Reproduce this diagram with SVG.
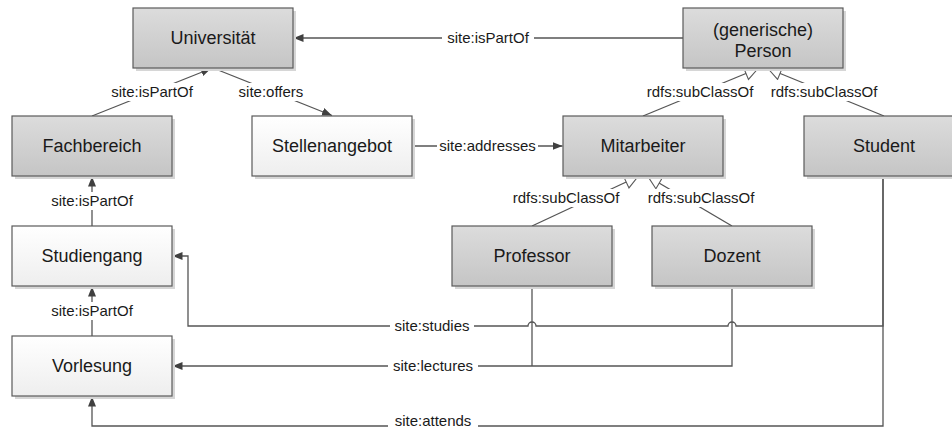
<svg xmlns="http://www.w3.org/2000/svg" width="952" height="430" viewBox="0 0 952 430">
<defs>
<linearGradient id="gGray" x1="0" y1="0" x2="0" y2="1">
<stop offset="0" stop-color="#dcdcdc"/>
<stop offset="1" stop-color="#c5c5c5"/>
</linearGradient>
<linearGradient id="gWhite" x1="0" y1="0" x2="0" y2="1">
<stop offset="0" stop-color="#ffffff"/>
<stop offset="1" stop-color="#eeeeee"/>
</linearGradient>
<marker id="arr" markerUnits="userSpaceOnUse" markerWidth="11" markerHeight="9" refX="10" refY="4" orient="auto">
<path d="M0,0 L10,4 L0,8 z" fill="#404040"/>
</marker>
<marker id="tri" markerUnits="userSpaceOnUse" markerWidth="16" markerHeight="16" refX="14" refY="7.5" orient="auto">
<path d="M1,1 L14,7.5 L1,14 z" fill="#ffffff" stroke="#595959" stroke-width="1.1"/>
</marker>
</defs>
<style>
.shadow{fill:#d6d6d6}
.gray{fill:url(#gGray);stroke:#5a5a5a;stroke-width:1.2}
.white{fill:url(#gWhite);stroke:#5a5a5a;stroke-width:1.2}
.nt{font-family:"Liberation Sans",Arial,sans-serif;font-size:18px;fill:#1a1a1a;text-anchor:middle}
.lt{font-family:"Liberation Sans",Arial,sans-serif;font-size:15px;fill:#1a1a1a;text-anchor:middle}
.ln{fill:none;stroke:#555555;stroke-width:1.3}
.bg{fill:#ffffff}
</style>

<g id="connectors">
<!-- Fachbereich -> Universitaet -->
<line class="ln" x1="92" y1="116" x2="211" y2="68.5" marker-end="url(#arr)"/>
<rect class="bg" x="109" y="83" width="86" height="18"/>
<text class="lt" x="152" y="97">site:isPartOf</text>
<!-- Universitaet -> Stellenangebot -->
<line class="ln" x1="213" y1="68" x2="332" y2="115.5" marker-end="url(#arr)"/>
<rect class="bg" x="237" y="83" width="68" height="18"/>
<text class="lt" x="271" y="97">site:offers</text>
<!-- Person -> Universitaet -->
<line class="ln" x1="683" y1="38" x2="293.5" y2="38" marker-end="url(#arr)"/>
<rect class="bg" x="442" y="29" width="92" height="18"/>
<text class="lt" x="488" y="43">site:isPartOf</text>
<!-- Stellenangebot -> Mitarbeiter -->
<line class="ln" x1="412" y1="146" x2="562.5" y2="146" marker-end="url(#arr)"/>
<rect class="bg" x="437" y="137" width="101" height="18"/>
<text class="lt" x="487.5" y="151">site:addresses</text>
<!-- Mitarbeiter / Student -> Person -->
<line class="ln" x1="643" y1="116" x2="758" y2="68.5" marker-end="url(#tri)"/>
<line class="ln" x1="884" y1="116" x2="768" y2="68.5" marker-end="url(#tri)"/>
<rect class="bg" x="650" y="83" width="100" height="18"/>
<text class="lt" x="700" y="97">rdfs:subClassOf</text>
<rect class="bg" x="773" y="83" width="102" height="18"/>
<text class="lt" x="824" y="97">rdfs:subClassOf</text>
<!-- Professor/Dozent -> Mitarbeiter -->
<line class="ln" x1="532" y1="226" x2="638" y2="176.5" marker-end="url(#tri)"/>
<line class="ln" x1="732" y1="226" x2="648" y2="176.5" marker-end="url(#tri)"/>
<rect class="bg" x="515" y="189" width="102" height="18"/>
<text class="lt" x="566" y="203">rdfs:subClassOf</text>
<rect class="bg" x="650" y="189" width="102" height="18"/>
<text class="lt" x="701" y="203">rdfs:subClassOf</text>
<!-- Studiengang -> Fachbereich -->
<line class="ln" x1="92" y1="226" x2="92" y2="176.5" marker-end="url(#arr)"/>
<rect class="bg" x="49" y="192" width="86" height="18"/>
<text class="lt" x="92" y="206">site:isPartOf</text>
<!-- Vorlesung -> Studiengang -->
<line class="ln" x1="92" y1="336" x2="92" y2="286.5" marker-end="url(#arr)"/>
<rect class="bg" x="49" y="302" width="86" height="18"/>
<text class="lt" x="92" y="316">site:isPartOf</text>
<!-- Student -> Studiengang (studies) with jumps -->
<path class="ln" d="M883,176 L883,326 L736,326 A4,4 0 0 0 728,326 L536,326 A4,4 0 0 0 528,326 L188,326 L188,256 L172.5,256" marker-end="url(#arr)"/>
<rect class="bg" x="390" y="317" width="84" height="18"/>
<text class="lt" x="432" y="331">site:studies</text>
<!-- Professor/Dozent -> Vorlesung (lectures) -->
<path class="ln" d="M532,286 L532,366"/>
<path class="ln" d="M732,286 L732,366 L172.5,366" marker-end="url(#arr)"/>
<rect class="bg" x="388" y="357" width="90" height="18"/>
<text class="lt" x="433" y="371">site:lectures</text>
<!-- Student -> Vorlesung (attends) -->
<path class="ln" d="M883,176 L883,426 L92,426 L92,396.5" marker-end="url(#arr)"/>
<rect class="bg" x="388" y="414" width="90" height="16"/>
<text class="lt" x="433" y="426">site:attends</text>
</g>

<g id="universitaet">
<rect class="shadow" x="136" y="11" width="160" height="60"/>
<rect class="gray" x="133" y="8" width="160" height="60"/>
<text class="nt" x="213" y="44">Universität</text>
</g>
<g id="person">
<rect class="shadow" x="686" y="11" width="160" height="60"/>
<rect class="gray" x="683" y="8" width="160" height="60"/>
<text class="nt" x="763" y="36">(generische)</text>
<text class="nt" x="763" y="57">Person</text>
</g>
<g id="fachbereich">
<rect class="shadow" x="15" y="119" width="160" height="60"/>
<rect class="gray" x="12" y="116" width="160" height="60"/>
<text class="nt" x="92" y="152">Fachbereich</text>
</g>
<g id="stellenangebot">
<rect class="shadow" x="255" y="119" width="160" height="60"/>
<rect class="white" x="252" y="116" width="160" height="60"/>
<text class="nt" x="332" y="152">Stellenangebot</text>
</g>
<g id="mitarbeiter">
<rect class="shadow" x="566" y="119" width="160" height="60"/>
<rect class="gray" x="563" y="116" width="160" height="60"/>
<text class="nt" x="643" y="152">Mitarbeiter</text>
</g>
<g id="student">
<rect class="shadow" x="807" y="119" width="160" height="60"/>
<rect class="gray" x="804" y="116" width="160" height="60"/>
<text class="nt" x="884" y="152">Student</text>
</g>
<g id="studiengang">
<rect class="shadow" x="15" y="229" width="160" height="60"/>
<rect class="white" x="12" y="226" width="160" height="60"/>
<text class="nt" x="92" y="262">Studiengang</text>
</g>
<g id="professor">
<rect class="shadow" x="455" y="229" width="160" height="60"/>
<rect class="gray" x="452" y="226" width="160" height="60"/>
<text class="nt" x="532" y="262">Professor</text>
</g>
<g id="dozent">
<rect class="shadow" x="655" y="229" width="160" height="60"/>
<rect class="gray" x="652" y="226" width="160" height="60"/>
<text class="nt" x="732" y="262">Dozent</text>
</g>
<g id="vorlesung">
<rect class="shadow" x="15" y="339" width="160" height="60"/>
<rect class="white" x="12" y="336" width="160" height="60"/>
<text class="nt" x="92" y="372">Vorlesung</text>
</g>
</svg>
